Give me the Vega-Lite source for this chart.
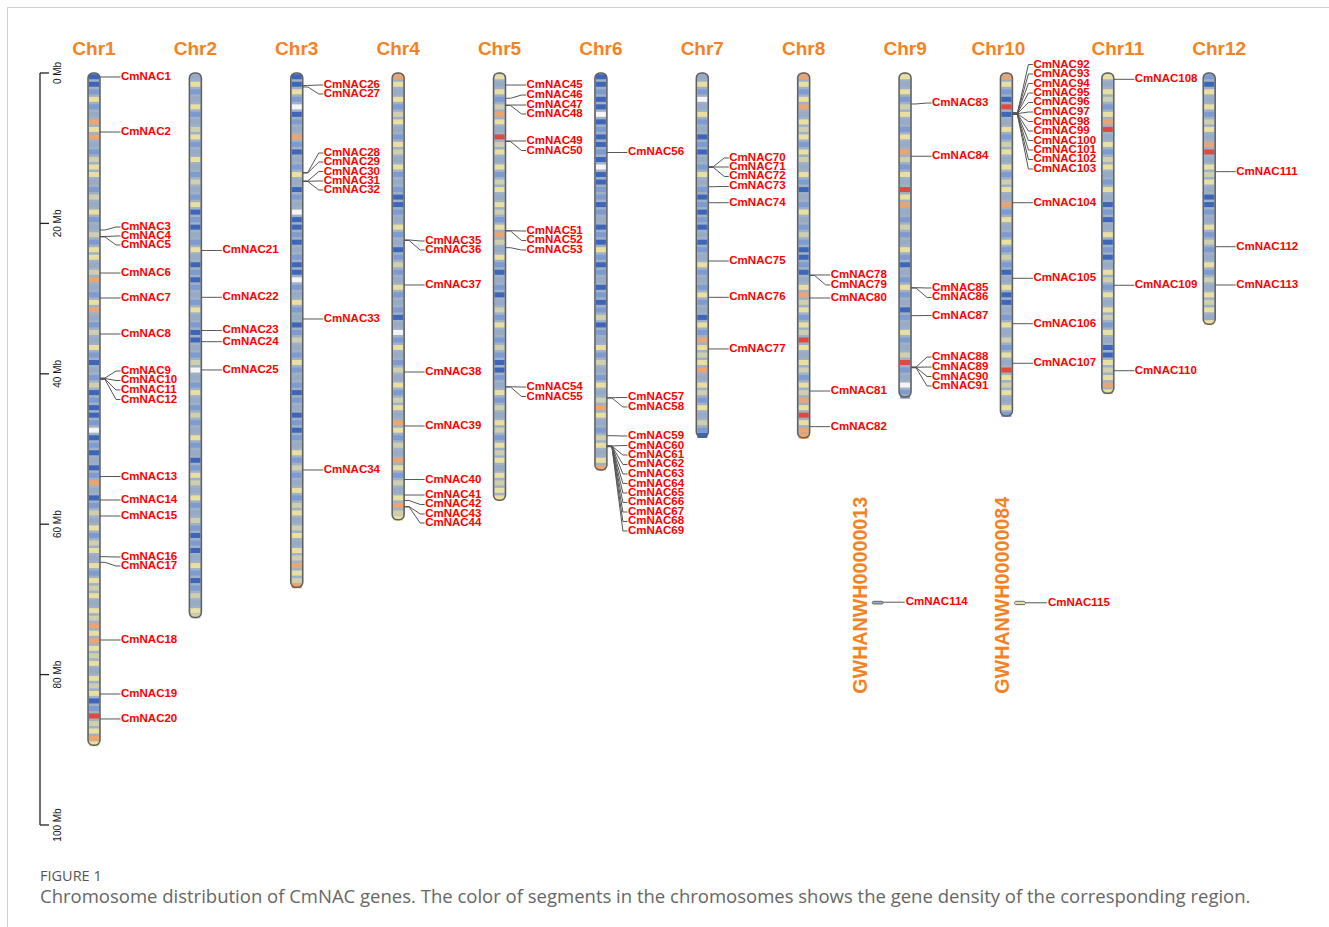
{
  "$schema": "https://vega.github.io/schema/vega-lite/v6.json",
  "width": 1322,
  "height": 920,
  "autosize": "none",
  "padding": {"left": 7, "top": 7, "right": 0, "bottom": 0},
  "background": "white",
  "config": {
    "view": {"stroke": "#cfcfcf", "strokeWidth": 1, "strokeDash": [1322, 2242, 920]}
  },
  "title": {
    "text": "FIGURE 1",
    "subtitle": "Chromosome distribution of CmNAC genes. The color of segments in the chromosomes shows the gene density of the corresponding region.",
    "orient": "bottom",
    "anchor": "start",
    "frame": "group",
    "offset": -57,
    "dx": 33,
    "font": "Open Sans",
    "fontSize": 14.5,
    "fontWeight": "normal",
    "color": "#555555",
    "subtitleFont": "Open Sans",
    "subtitleFontSize": 18.5,
    "subtitleColor": "#666666",
    "subtitlePadding": 3
  },
  "datasets": {
    "axisLine": [{"from": 0, "to": 100}],
    "axisTicks": [
      {"v": 0, "lbl": "0 Mb"}, {"v": 20, "lbl": "20 Mb"}, {"v": 40, "lbl": "40 Mb"},
      {"v": 60, "lbl": "60 Mb"}, {"v": 80, "lbl": "80 Mb"}, {"v": 100, "lbl": "100 Mb"}
    ],
    "chroms": [
      {"chr": "Chr1", "k": 1, "start": 0, "len": 89.4},
      {"chr": "Chr2", "k": 2, "start": 0, "len": 72.4},
      {"chr": "Chr3", "k": 3, "start": 0, "len": 68.4},
      {"chr": "Chr4", "k": 4, "start": 0, "len": 59.4},
      {"chr": "Chr5", "k": 5, "start": 0, "len": 56.8},
      {"chr": "Chr6", "k": 6, "start": 0, "len": 52.8},
      {"chr": "Chr7", "k": 7, "start": 0, "len": 48.4},
      {"chr": "Chr8", "k": 8, "start": 0, "len": 48.5},
      {"chr": "Chr9", "k": 9, "start": 0, "len": 43.1},
      {"chr": "Chr10", "k": 10, "start": 0, "len": 45.6},
      {"chr": "Chr11", "k": 11, "start": 0, "len": 42.6},
      {"chr": "Chr12", "k": 12, "start": 0, "len": 33.4}
    ],
    "scaf": [
      {"s": "GWHANWH00000013", "n": 13, "start": 0, "len": 0.36, "d": 2, "g": "CmNAC114", "gp": 0.12},
      {"s": "GWHANWH00000084", "n": 84, "start": 0, "len": 0.44, "d": 4, "g": "CmNAC115", "gp": 0.2}
    ],
    "genes": [
      {"g": "CmNAC1", "k": 1, "pos": 0.53, "lab": 0.53},
      {"g": "CmNAC2", "k": 1, "pos": 7.85, "lab": 7.85},
      {"g": "CmNAC3", "k": 1, "pos": 20.88, "lab": 20.48},
      {"g": "CmNAC4", "k": 1, "pos": 21.74, "lab": 21.68},
      {"g": "CmNAC5", "k": 1, "pos": 21.8, "lab": 22.87},
      {"g": "CmNAC6", "k": 1, "pos": 26.6, "lab": 26.6},
      {"g": "CmNAC7", "k": 1, "pos": 29.92, "lab": 29.92},
      {"g": "CmNAC8", "k": 1, "pos": 34.71, "lab": 34.71},
      {"g": "CmNAC9", "k": 1, "pos": 40.56, "lab": 39.63},
      {"g": "CmNAC10", "k": 1, "pos": 40.62, "lab": 40.89},
      {"g": "CmNAC11", "k": 1, "pos": 40.69, "lab": 42.15},
      {"g": "CmNAC12", "k": 1, "pos": 40.75, "lab": 43.42},
      {"g": "CmNAC13", "k": 1, "pos": 53.66, "lab": 53.66},
      {"g": "CmNAC14", "k": 1, "pos": 56.78, "lab": 56.78},
      {"g": "CmNAC15", "k": 1, "pos": 58.91, "lab": 58.91},
      {"g": "CmNAC16", "k": 1, "pos": 64.32, "lab": 64.36},
      {"g": "CmNAC17", "k": 1, "pos": 65.07, "lab": 65.56},
      {"g": "CmNAC18", "k": 1, "pos": 75.4, "lab": 75.4},
      {"g": "CmNAC19", "k": 1, "pos": 82.58, "lab": 82.58},
      {"g": "CmNAC20", "k": 1, "pos": 85.9, "lab": 85.9},
      {"g": "CmNAC21", "k": 2, "pos": 23.6, "lab": 23.6},
      {"g": "CmNAC22", "k": 2, "pos": 29.83, "lab": 29.83},
      {"g": "CmNAC23", "k": 2, "pos": 34.24, "lab": 34.24},
      {"g": "CmNAC24", "k": 2, "pos": 35.73, "lab": 35.73},
      {"g": "CmNAC25", "k": 2, "pos": 39.49, "lab": 39.49},
      {"g": "CmNAC26", "k": 3, "pos": 1.66, "lab": 1.6},
      {"g": "CmNAC27", "k": 3, "pos": 1.86, "lab": 2.79},
      {"g": "CmNAC28", "k": 3, "pos": 13.23, "lab": 10.64},
      {"g": "CmNAC29", "k": 3, "pos": 13.3, "lab": 11.84},
      {"g": "CmNAC30", "k": 3, "pos": 14.36, "lab": 13.1},
      {"g": "CmNAC31", "k": 3, "pos": 14.4, "lab": 14.36},
      {"g": "CmNAC32", "k": 3, "pos": 14.43, "lab": 15.56},
      {"g": "CmNAC33", "k": 3, "pos": 32.71, "lab": 32.71},
      {"g": "CmNAC34", "k": 3, "pos": 52.79, "lab": 52.79},
      {"g": "CmNAC35", "k": 4, "pos": 22.2, "lab": 22.34},
      {"g": "CmNAC36", "k": 4, "pos": 22.27, "lab": 23.54},
      {"g": "CmNAC37", "k": 4, "pos": 28.19, "lab": 28.19},
      {"g": "CmNAC38", "k": 4, "pos": 39.76, "lab": 39.76},
      {"g": "CmNAC39", "k": 4, "pos": 46.94, "lab": 46.94},
      {"g": "CmNAC40", "k": 4, "pos": 54.06, "lab": 54.06},
      {"g": "CmNAC41", "k": 4, "pos": 56.12, "lab": 56.12},
      {"g": "CmNAC42", "k": 4, "pos": 56.85, "lab": 57.38},
      {"g": "CmNAC43", "k": 4, "pos": 57.65, "lab": 58.64},
      {"g": "CmNAC44", "k": 4, "pos": 57.71, "lab": 59.84},
      {"g": "CmNAC45", "k": 5, "pos": 1.6, "lab": 1.6},
      {"g": "CmNAC46", "k": 5, "pos": 3.36, "lab": 2.93},
      {"g": "CmNAC47", "k": 5, "pos": 4.26, "lab": 4.26},
      {"g": "CmNAC48", "k": 5, "pos": 4.32, "lab": 5.45},
      {"g": "CmNAC49", "k": 5, "pos": 9.04, "lab": 9.04},
      {"g": "CmNAC50", "k": 5, "pos": 9.11, "lab": 10.31},
      {"g": "CmNAC51", "k": 5, "pos": 20.97, "lab": 21.01},
      {"g": "CmNAC52", "k": 5, "pos": 21.01, "lab": 22.27},
      {"g": "CmNAC53", "k": 5, "pos": 23.23, "lab": 23.54},
      {"g": "CmNAC54", "k": 5, "pos": 41.72, "lab": 41.76},
      {"g": "CmNAC55", "k": 5, "pos": 41.76, "lab": 43.02},
      {"g": "CmNAC56", "k": 6, "pos": 10.57, "lab": 10.57},
      {"g": "CmNAC57", "k": 6, "pos": 43.18, "lab": 43.15},
      {"g": "CmNAC58", "k": 6, "pos": 43.22, "lab": 44.41},
      {"g": "CmNAC59", "k": 6, "pos": 48.23, "lab": 48.27},
      {"g": "CmNAC60", "k": 6, "pos": 49.6, "lab": 49.54},
      {"g": "CmNAC61", "k": 6, "pos": 49.61, "lab": 50.8},
      {"g": "CmNAC62", "k": 6, "pos": 49.62, "lab": 52.06},
      {"g": "CmNAC63", "k": 6, "pos": 49.63, "lab": 53.32},
      {"g": "CmNAC64", "k": 6, "pos": 49.64, "lab": 54.59},
      {"g": "CmNAC65", "k": 6, "pos": 49.65, "lab": 55.85},
      {"g": "CmNAC66", "k": 6, "pos": 49.66, "lab": 57.11},
      {"g": "CmNAC67", "k": 6, "pos": 49.67, "lab": 58.38},
      {"g": "CmNAC68", "k": 6, "pos": 49.68, "lab": 59.64},
      {"g": "CmNAC69", "k": 6, "pos": 49.69, "lab": 60.9},
      {"g": "CmNAC70", "k": 7, "pos": 12.46, "lab": 11.3},
      {"g": "CmNAC71", "k": 7, "pos": 12.5, "lab": 12.5},
      {"g": "CmNAC72", "k": 7, "pos": 12.55, "lab": 13.76},
      {"g": "CmNAC73", "k": 7, "pos": 15.12, "lab": 15.09},
      {"g": "CmNAC74", "k": 7, "pos": 17.25, "lab": 17.25},
      {"g": "CmNAC75", "k": 7, "pos": 25.0, "lab": 25.0},
      {"g": "CmNAC76", "k": 7, "pos": 29.83, "lab": 29.83},
      {"g": "CmNAC77", "k": 7, "pos": 36.7, "lab": 36.7},
      {"g": "CmNAC78", "k": 8, "pos": 26.86, "lab": 26.86},
      {"g": "CmNAC79", "k": 8, "pos": 26.93, "lab": 28.19},
      {"g": "CmNAC80", "k": 8, "pos": 29.92, "lab": 29.92},
      {"g": "CmNAC81", "k": 8, "pos": 42.29, "lab": 42.29},
      {"g": "CmNAC82", "k": 8, "pos": 47.03, "lab": 47.03},
      {"g": "CmNAC83", "k": 9, "pos": 4.12, "lab": 3.99},
      {"g": "CmNAC84", "k": 9, "pos": 11.07, "lab": 11.07},
      {"g": "CmNAC85", "k": 9, "pos": 28.55, "lab": 28.59},
      {"g": "CmNAC86", "k": 9, "pos": 28.6, "lab": 29.85},
      {"g": "CmNAC87", "k": 9, "pos": 32.27, "lab": 32.25},
      {"g": "CmNAC88", "k": 9, "pos": 39.1, "lab": 37.77},
      {"g": "CmNAC89", "k": 9, "pos": 39.13, "lab": 39.1},
      {"g": "CmNAC90", "k": 9, "pos": 39.16, "lab": 40.36},
      {"g": "CmNAC91", "k": 9, "pos": 39.2, "lab": 41.62},
      {"g": "CmNAC92", "k": 10, "pos": 5.3, "lab": -1.13},
      {"g": "CmNAC93", "k": 10, "pos": 5.32, "lab": 0.13},
      {"g": "CmNAC94", "k": 10, "pos": 5.34, "lab": 1.4},
      {"g": "CmNAC95", "k": 10, "pos": 5.36, "lab": 2.66},
      {"g": "CmNAC96", "k": 10, "pos": 5.38, "lab": 3.92},
      {"g": "CmNAC97", "k": 10, "pos": 5.4, "lab": 5.19},
      {"g": "CmNAC98", "k": 10, "pos": 5.42, "lab": 6.45},
      {"g": "CmNAC99", "k": 10, "pos": 5.44, "lab": 7.71},
      {"g": "CmNAC100", "k": 10, "pos": 5.46, "lab": 8.98},
      {"g": "CmNAC101", "k": 10, "pos": 5.48, "lab": 10.24},
      {"g": "CmNAC102", "k": 10, "pos": 5.5, "lab": 11.5},
      {"g": "CmNAC103", "k": 10, "pos": 5.52, "lab": 12.77},
      {"g": "CmNAC104", "k": 10, "pos": 17.25, "lab": 17.25},
      {"g": "CmNAC105", "k": 10, "pos": 27.3, "lab": 27.3},
      {"g": "CmNAC106", "k": 10, "pos": 33.34, "lab": 33.34},
      {"g": "CmNAC107", "k": 10, "pos": 38.6, "lab": 38.6},
      {"g": "CmNAC108", "k": 11, "pos": 0.84, "lab": 0.84},
      {"g": "CmNAC109", "k": 11, "pos": 28.23, "lab": 28.23},
      {"g": "CmNAC110", "k": 11, "pos": 39.59, "lab": 39.59},
      {"g": "CmNAC111", "k": 12, "pos": 13.12, "lab": 13.12},
      {"g": "CmNAC112", "k": 12, "pos": 23.1, "lab": 23.1},
      {"g": "CmNAC113", "k": 12, "pos": 28.19, "lab": 28.19}
    ],
    "bands": [
      {"k":1,"p":0.5,"d":0},{"k":1,"p":1.5,"d":0},{"k":1,"p":2.5,"d":1},{"k":1,"p":3.5,"d":4},{"k":1,"p":4.5,"d":1},{"k":1,"p":5.5,"d":2},{"k":1,"p":6.5,"d":5},{"k":1,"p":7.5,"d":4},{"k":1,"p":8.5,"d":5},{"k":1,"p":9.5,"d":2},
      {"k":1,"p":10.5,"d":1},{"k":1,"p":11.5,"d":3},{"k":1,"p":12.5,"d":4},{"k":1,"p":13.5,"d":4},{"k":1,"p":14.5,"d":2},{"k":1,"p":15.5,"d":1},{"k":1,"p":16.5,"d":3},{"k":1,"p":17.5,"d":2},{"k":1,"p":18.5,"d":4},{"k":1,"p":19.5,"d":1},
      {"k":1,"p":20.5,"d":2},{"k":1,"p":21.5,"d":3},{"k":1,"p":22.5,"d":1},{"k":1,"p":23.5,"d":4},{"k":1,"p":24.5,"d":4},{"k":1,"p":25.5,"d":2},{"k":1,"p":26.5,"d":3},{"k":1,"p":27.5,"d":5},{"k":1,"p":28.5,"d":2},{"k":1,"p":29.5,"d":1},
      {"k":1,"p":30.5,"d":4},{"k":1,"p":31.5,"d":5},{"k":1,"p":32.5,"d":2},{"k":1,"p":33.5,"d":1},{"k":1,"p":34.5,"d":3},{"k":1,"p":35.5,"d":2},{"k":1,"p":36.5,"d":4},{"k":1,"p":37.5,"d":1},{"k":1,"p":38.5,"d":0},{"k":1,"p":39.5,"d":2},
      {"k":1,"p":40.5,"d":1},{"k":1,"p":41.5,"d":3},{"k":1,"p":42.5,"d":0},{"k":1,"p":43.5,"d":1},{"k":1,"p":44.5,"d":0},{"k":1,"p":45.5,"d":0},{"k":1,"p":46.5,"d":1},{"k":1,"p":47.5,"d":7},{"k":1,"p":48.5,"d":0},{"k":1,"p":49.5,"d":1},
      {"k":1,"p":50.5,"d":0},{"k":1,"p":51.5,"d":2},{"k":1,"p":52.5,"d":0},{"k":1,"p":53.5,"d":1},{"k":1,"p":54.5,"d":5},{"k":1,"p":55.5,"d":2},{"k":1,"p":56.5,"d":0},{"k":1,"p":57.5,"d":1},{"k":1,"p":58.5,"d":3},{"k":1,"p":59.5,"d":2},
      {"k":1,"p":60.5,"d":4},{"k":1,"p":61.5,"d":1},{"k":1,"p":62.5,"d":3},{"k":1,"p":63.5,"d":4},{"k":1,"p":64.5,"d":2},{"k":1,"p":65.5,"d":4},{"k":1,"p":66.5,"d":1},{"k":1,"p":67.5,"d":4},{"k":1,"p":68.5,"d":3},{"k":1,"p":69.5,"d":4},
      {"k":1,"p":70.5,"d":2},{"k":1,"p":71.5,"d":4},{"k":1,"p":72.5,"d":3},{"k":1,"p":73.5,"d":5},{"k":1,"p":74.5,"d":4},{"k":1,"p":75.5,"d":5},{"k":1,"p":76.5,"d":4},{"k":1,"p":77.5,"d":3},{"k":1,"p":78.5,"d":4},{"k":1,"p":79.5,"d":2},
      {"k":1,"p":80.5,"d":4},{"k":1,"p":81.5,"d":3},{"k":1,"p":82.5,"d":4},{"k":1,"p":83.5,"d":0},{"k":1,"p":84.5,"d":1},{"k":1,"p":85.5,"d":6},{"k":1,"p":86.5,"d":3},{"k":1,"p":87.5,"d":4},{"k":1,"p":88.5,"d":5},{"k":1,"p":89.2,"d":4},
      {"k":2,"p":0.5,"d":2},{"k":2,"p":1.5,"d":4},{"k":2,"p":2.5,"d":1},{"k":2,"p":3.5,"d":2},{"k":2,"p":4.5,"d":4},{"k":2,"p":5.5,"d":1},{"k":2,"p":6.5,"d":2},{"k":2,"p":7.5,"d":3},{"k":2,"p":8.5,"d":4},{"k":2,"p":9.5,"d":1},
      {"k":2,"p":10.5,"d":2},{"k":2,"p":11.5,"d":4},{"k":2,"p":12.5,"d":2},{"k":2,"p":13.5,"d":1},{"k":2,"p":14.5,"d":3},{"k":2,"p":15.5,"d":2},{"k":2,"p":16.5,"d":1},{"k":2,"p":17.5,"d":4},{"k":2,"p":18.5,"d":0},{"k":2,"p":19.5,"d":1},
      {"k":2,"p":20.5,"d":0},{"k":2,"p":21.5,"d":2},{"k":2,"p":22.5,"d":1},{"k":2,"p":23.5,"d":4},{"k":2,"p":24.5,"d":2},{"k":2,"p":25.5,"d":0},{"k":2,"p":26.5,"d":1},{"k":2,"p":27.5,"d":0},{"k":2,"p":28.5,"d":1},{"k":2,"p":29.5,"d":2},
      {"k":2,"p":30.5,"d":1},{"k":2,"p":31.5,"d":4},{"k":2,"p":32.5,"d":2},{"k":2,"p":33.5,"d":1},{"k":2,"p":34.5,"d":0},{"k":2,"p":35.5,"d":0},{"k":2,"p":36.5,"d":2},{"k":2,"p":37.5,"d":1},{"k":2,"p":38.5,"d":3},{"k":2,"p":39.5,"d":7},
      {"k":2,"p":40.5,"d":2},{"k":2,"p":41.5,"d":1},{"k":2,"p":42.5,"d":4},{"k":2,"p":43.5,"d":2},{"k":2,"p":44.5,"d":1},{"k":2,"p":45.5,"d":3},{"k":2,"p":46.5,"d":1},{"k":2,"p":47.5,"d":2},{"k":2,"p":48.5,"d":4},{"k":2,"p":49.5,"d":1},
      {"k":2,"p":50.5,"d":2},{"k":2,"p":51.5,"d":0},{"k":2,"p":52.5,"d":1},{"k":2,"p":53.5,"d":4},{"k":2,"p":54.5,"d":3},{"k":2,"p":55.5,"d":2},{"k":2,"p":56.5,"d":4},{"k":2,"p":57.5,"d":1},{"k":2,"p":58.5,"d":2},{"k":2,"p":59.5,"d":3},
      {"k":2,"p":60.5,"d":1},{"k":2,"p":61.5,"d":0},{"k":2,"p":62.5,"d":1},{"k":2,"p":63.5,"d":0},{"k":2,"p":64.5,"d":2},{"k":2,"p":65.5,"d":4},{"k":2,"p":66.5,"d":1},{"k":2,"p":67.5,"d":0},{"k":2,"p":68.5,"d":1},{"k":2,"p":69.5,"d":3},
      {"k":2,"p":70.5,"d":2},{"k":2,"p":71.5,"d":4},{"k":2,"p":72.2,"d":3},
      {"k":3,"p":0.5,"d":0},{"k":3,"p":1.5,"d":0},{"k":3,"p":2.5,"d":4},{"k":3,"p":3.5,"d":1},{"k":3,"p":4.5,"d":7},{"k":3,"p":5.5,"d":0},{"k":3,"p":6.5,"d":1},{"k":3,"p":7.5,"d":2},{"k":3,"p":8.5,"d":5},{"k":3,"p":9.5,"d":1},
      {"k":3,"p":10.5,"d":0},{"k":3,"p":11.5,"d":2},{"k":3,"p":12.5,"d":1},{"k":3,"p":13.5,"d":4},{"k":3,"p":14.5,"d":2},{"k":3,"p":15.5,"d":0},{"k":3,"p":16.5,"d":1},{"k":3,"p":17.5,"d":2},{"k":3,"p":18.5,"d":7},{"k":3,"p":19.5,"d":0},
      {"k":3,"p":20.5,"d":0},{"k":3,"p":21.5,"d":1},{"k":3,"p":22.5,"d":0},{"k":3,"p":23.5,"d":2},{"k":3,"p":24.5,"d":1},{"k":3,"p":25.5,"d":0},{"k":3,"p":26.5,"d":0},{"k":3,"p":27.5,"d":7},{"k":3,"p":28.5,"d":1},{"k":3,"p":29.5,"d":2},
      {"k":3,"p":30.5,"d":4},{"k":3,"p":31.5,"d":1},{"k":3,"p":32.5,"d":2},{"k":3,"p":33.5,"d":0},{"k":3,"p":34.5,"d":1},{"k":3,"p":35.5,"d":3},{"k":3,"p":36.5,"d":2},{"k":3,"p":37.5,"d":1},{"k":3,"p":38.5,"d":4},{"k":3,"p":39.5,"d":1},
      {"k":3,"p":40.5,"d":2},{"k":3,"p":41.5,"d":1},{"k":3,"p":42.5,"d":0},{"k":3,"p":43.5,"d":1},{"k":3,"p":44.5,"d":2},{"k":3,"p":45.5,"d":0},{"k":3,"p":46.5,"d":1},{"k":3,"p":47.5,"d":0},{"k":3,"p":48.5,"d":1},{"k":3,"p":49.5,"d":2},
      {"k":3,"p":50.5,"d":4},{"k":3,"p":51.5,"d":1},{"k":3,"p":52.5,"d":3},{"k":3,"p":53.5,"d":1},{"k":3,"p":54.5,"d":2},{"k":3,"p":55.5,"d":4},{"k":3,"p":56.5,"d":1},{"k":3,"p":57.5,"d":3},{"k":3,"p":58.5,"d":4},{"k":3,"p":59.5,"d":2},
      {"k":3,"p":60.5,"d":3},{"k":3,"p":61.5,"d":4},{"k":3,"p":62.5,"d":2},{"k":3,"p":63.5,"d":4},{"k":3,"p":64.5,"d":3},{"k":3,"p":65.5,"d":5},{"k":3,"p":66.5,"d":4},{"k":3,"p":67.5,"d":3},{"k":3,"p":68.2,"d":5},
      {"k":4,"p":0.5,"d":5},{"k":4,"p":1.5,"d":4},{"k":4,"p":2.5,"d":2},{"k":4,"p":3.5,"d":4},{"k":4,"p":4.5,"d":1},{"k":4,"p":5.5,"d":3},{"k":4,"p":6.5,"d":4},{"k":4,"p":7.5,"d":2},{"k":4,"p":8.5,"d":1},{"k":4,"p":9.5,"d":4},
      {"k":4,"p":10.5,"d":3},{"k":4,"p":11.5,"d":2},{"k":4,"p":12.5,"d":4},{"k":4,"p":13.5,"d":1},{"k":4,"p":14.5,"d":2},{"k":4,"p":15.5,"d":1},{"k":4,"p":16.5,"d":0},{"k":4,"p":17.5,"d":0},{"k":4,"p":18.5,"d":1},{"k":4,"p":19.5,"d":2},
      {"k":4,"p":20.5,"d":4},{"k":4,"p":21.5,"d":1},{"k":4,"p":22.5,"d":2},{"k":4,"p":23.5,"d":0},{"k":4,"p":24.5,"d":1},{"k":4,"p":25.5,"d":3},{"k":4,"p":26.5,"d":1},{"k":4,"p":27.5,"d":2},{"k":4,"p":28.5,"d":4},{"k":4,"p":29.5,"d":1},
      {"k":4,"p":30.5,"d":2},{"k":4,"p":31.5,"d":1},{"k":4,"p":32.5,"d":0},{"k":4,"p":33.5,"d":2},{"k":4,"p":34.5,"d":7},{"k":4,"p":35.5,"d":1},{"k":4,"p":36.5,"d":4},{"k":4,"p":37.5,"d":2},{"k":4,"p":38.5,"d":1},{"k":4,"p":39.5,"d":3},
      {"k":4,"p":40.5,"d":2},{"k":4,"p":41.5,"d":4},{"k":4,"p":42.5,"d":1},{"k":4,"p":43.5,"d":3},{"k":4,"p":44.5,"d":4},{"k":4,"p":45.5,"d":2},{"k":4,"p":46.5,"d":5},{"k":4,"p":47.5,"d":4},{"k":4,"p":48.5,"d":1},{"k":4,"p":49.5,"d":3},
      {"k":4,"p":50.5,"d":2},{"k":4,"p":51.5,"d":5},{"k":4,"p":52.5,"d":4},{"k":4,"p":53.5,"d":1},{"k":4,"p":54.5,"d":3},{"k":4,"p":55.5,"d":2},{"k":4,"p":56.5,"d":4},{"k":4,"p":57.5,"d":5},{"k":4,"p":58.5,"d":3},{"k":4,"p":59.2,"d":4},
      {"k":5,"p":0.5,"d":4},{"k":5,"p":1.5,"d":2},{"k":5,"p":2.5,"d":4},{"k":5,"p":3.5,"d":1},{"k":5,"p":4.5,"d":3},{"k":5,"p":5.5,"d":5},{"k":5,"p":6.5,"d":4},{"k":5,"p":7.5,"d":2},{"k":5,"p":8.5,"d":6},{"k":5,"p":9.5,"d":3},
      {"k":5,"p":10.5,"d":4},{"k":5,"p":11.5,"d":2},{"k":5,"p":12.5,"d":4},{"k":5,"p":13.5,"d":1},{"k":5,"p":14.5,"d":3},{"k":5,"p":15.5,"d":4},{"k":5,"p":16.5,"d":2},{"k":5,"p":17.5,"d":4},{"k":5,"p":18.5,"d":3},{"k":5,"p":19.5,"d":1},
      {"k":5,"p":20.5,"d":4},{"k":5,"p":21.5,"d":5},{"k":5,"p":22.5,"d":3},{"k":5,"p":23.5,"d":2},{"k":5,"p":24.5,"d":4},{"k":5,"p":25.5,"d":1},{"k":5,"p":26.5,"d":0},{"k":5,"p":27.5,"d":2},{"k":5,"p":28.5,"d":1},{"k":5,"p":29.5,"d":0},
      {"k":5,"p":30.5,"d":2},{"k":5,"p":31.5,"d":3},{"k":5,"p":32.5,"d":1},{"k":5,"p":33.5,"d":4},{"k":5,"p":34.5,"d":2},{"k":5,"p":35.5,"d":1},{"k":5,"p":36.5,"d":3},{"k":5,"p":37.5,"d":1},{"k":5,"p":38.5,"d":0},{"k":5,"p":39.5,"d":0},
      {"k":5,"p":40.5,"d":1},{"k":5,"p":41.5,"d":2},{"k":5,"p":42.5,"d":4},{"k":5,"p":43.5,"d":1},{"k":5,"p":44.5,"d":3},{"k":5,"p":45.5,"d":2},{"k":5,"p":46.5,"d":4},{"k":5,"p":47.5,"d":3},{"k":5,"p":48.5,"d":1},{"k":5,"p":49.5,"d":4},
      {"k":5,"p":50.5,"d":3},{"k":5,"p":51.5,"d":4},{"k":5,"p":52.5,"d":2},{"k":5,"p":53.5,"d":4},{"k":5,"p":54.5,"d":3},{"k":5,"p":55.5,"d":4},{"k":5,"p":56.5,"d":4},
      {"k":6,"p":0.5,"d":0},{"k":6,"p":1.5,"d":0},{"k":6,"p":2.5,"d":1},{"k":6,"p":3.5,"d":0},{"k":6,"p":4.5,"d":0},{"k":6,"p":5.5,"d":7},{"k":6,"p":6.5,"d":0},{"k":6,"p":7.5,"d":1},{"k":6,"p":8.5,"d":0},{"k":6,"p":9.5,"d":0},
      {"k":6,"p":10.5,"d":1},{"k":6,"p":11.5,"d":0},{"k":6,"p":12.5,"d":7},{"k":6,"p":13.5,"d":0},{"k":6,"p":14.5,"d":0},{"k":6,"p":15.5,"d":1},{"k":6,"p":16.5,"d":1},{"k":6,"p":17.5,"d":0},{"k":6,"p":18.5,"d":1},{"k":6,"p":19.5,"d":2},
      {"k":6,"p":20.5,"d":0},{"k":6,"p":21.5,"d":1},{"k":6,"p":22.5,"d":0},{"k":6,"p":23.5,"d":4},{"k":6,"p":24.5,"d":1},{"k":6,"p":25.5,"d":0},{"k":6,"p":26.5,"d":1},{"k":6,"p":27.5,"d":2},{"k":6,"p":28.5,"d":0},{"k":6,"p":29.5,"d":1},
      {"k":6,"p":30.5,"d":0},{"k":6,"p":31.5,"d":1},{"k":6,"p":32.5,"d":3},{"k":6,"p":33.5,"d":0},{"k":6,"p":34.5,"d":1},{"k":6,"p":35.5,"d":2},{"k":6,"p":36.5,"d":4},{"k":6,"p":37.5,"d":1},{"k":6,"p":38.5,"d":3},{"k":6,"p":39.5,"d":2},
      {"k":6,"p":40.5,"d":1},{"k":6,"p":41.5,"d":4},{"k":6,"p":42.5,"d":2},{"k":6,"p":43.5,"d":3},{"k":6,"p":44.5,"d":5},{"k":6,"p":45.5,"d":4},{"k":6,"p":46.5,"d":2},{"k":6,"p":47.5,"d":1},{"k":6,"p":48.5,"d":3},{"k":6,"p":49.5,"d":4},
      {"k":6,"p":50.5,"d":2},{"k":6,"p":51.5,"d":4},{"k":6,"p":52.5,"d":5},
      {"k":7,"p":0.5,"d":2},{"k":7,"p":1.5,"d":4},{"k":7,"p":2.5,"d":1},{"k":7,"p":3.5,"d":7},{"k":7,"p":4.5,"d":2},{"k":7,"p":5.5,"d":4},{"k":7,"p":6.5,"d":1},{"k":7,"p":7.5,"d":2},{"k":7,"p":8.5,"d":0},{"k":7,"p":9.5,"d":1},
      {"k":7,"p":10.5,"d":0},{"k":7,"p":11.5,"d":2},{"k":7,"p":12.5,"d":1},{"k":7,"p":13.5,"d":4},{"k":7,"p":14.5,"d":2},{"k":7,"p":15.5,"d":1},{"k":7,"p":16.5,"d":0},{"k":7,"p":17.5,"d":1},{"k":7,"p":18.5,"d":0},{"k":7,"p":19.5,"d":1},
      {"k":7,"p":20.5,"d":0},{"k":7,"p":21.5,"d":2},{"k":7,"p":22.5,"d":0},{"k":7,"p":23.5,"d":1},{"k":7,"p":24.5,"d":2},{"k":7,"p":25.5,"d":4},{"k":7,"p":26.5,"d":1},{"k":7,"p":27.5,"d":2},{"k":7,"p":28.5,"d":1},{"k":7,"p":29.5,"d":4},
      {"k":7,"p":30.5,"d":1},{"k":7,"p":31.5,"d":2},{"k":7,"p":32.5,"d":0},{"k":7,"p":33.5,"d":4},{"k":7,"p":34.5,"d":1},{"k":7,"p":35.5,"d":5},{"k":7,"p":36.5,"d":4},{"k":7,"p":37.5,"d":3},{"k":7,"p":38.5,"d":4},{"k":7,"p":39.5,"d":5},
      {"k":7,"p":40.5,"d":2},{"k":7,"p":41.5,"d":4},{"k":7,"p":42.5,"d":3},{"k":7,"p":43.5,"d":1},{"k":7,"p":44.5,"d":4},{"k":7,"p":45.5,"d":2},{"k":7,"p":46.5,"d":3},{"k":7,"p":47.5,"d":1},{"k":7,"p":48.2,"d":0},
      {"k":8,"p":0.5,"d":5},{"k":8,"p":1.5,"d":4},{"k":8,"p":2.5,"d":1},{"k":8,"p":3.5,"d":4},{"k":8,"p":4.5,"d":5},{"k":8,"p":5.5,"d":2},{"k":8,"p":6.5,"d":4},{"k":8,"p":7.5,"d":3},{"k":8,"p":8.5,"d":4},{"k":8,"p":9.5,"d":1},
      {"k":8,"p":10.5,"d":4},{"k":8,"p":11.5,"d":3},{"k":8,"p":12.5,"d":2},{"k":8,"p":13.5,"d":4},{"k":8,"p":14.5,"d":1},{"k":8,"p":15.5,"d":0},{"k":8,"p":16.5,"d":2},{"k":8,"p":17.5,"d":1},{"k":8,"p":18.5,"d":4},{"k":8,"p":19.5,"d":2},
      {"k":8,"p":20.5,"d":1},{"k":8,"p":21.5,"d":3},{"k":8,"p":22.5,"d":1},{"k":8,"p":23.5,"d":0},{"k":8,"p":24.5,"d":0},{"k":8,"p":25.5,"d":1},{"k":8,"p":26.5,"d":0},{"k":8,"p":27.5,"d":2},{"k":8,"p":28.5,"d":4},{"k":8,"p":29.5,"d":5},
      {"k":8,"p":30.5,"d":3},{"k":8,"p":31.5,"d":4},{"k":8,"p":32.5,"d":1},{"k":8,"p":33.5,"d":4},{"k":8,"p":34.5,"d":3},{"k":8,"p":35.5,"d":6},{"k":8,"p":36.5,"d":4},{"k":8,"p":37.5,"d":2},{"k":8,"p":38.5,"d":4},{"k":8,"p":39.5,"d":3},
      {"k":8,"p":40.5,"d":1},{"k":8,"p":41.5,"d":4},{"k":8,"p":42.5,"d":3},{"k":8,"p":43.5,"d":5},{"k":8,"p":44.5,"d":4},{"k":8,"p":45.5,"d":6},{"k":8,"p":46.5,"d":4},{"k":8,"p":47.5,"d":5},{"k":8,"p":48.3,"d":5},
      {"k":9,"p":0.5,"d":4},{"k":9,"p":1.5,"d":2},{"k":9,"p":2.5,"d":4},{"k":9,"p":3.5,"d":1},{"k":9,"p":4.5,"d":3},{"k":9,"p":5.5,"d":4},{"k":9,"p":6.5,"d":2},{"k":9,"p":7.5,"d":1},{"k":9,"p":8.5,"d":4},{"k":9,"p":9.5,"d":2},
      {"k":9,"p":10.5,"d":5},{"k":9,"p":11.5,"d":3},{"k":9,"p":12.5,"d":1},{"k":9,"p":13.5,"d":4},{"k":9,"p":14.5,"d":2},{"k":9,"p":15.5,"d":6},{"k":9,"p":16.5,"d":4},{"k":9,"p":17.5,"d":5},{"k":9,"p":18.5,"d":2},{"k":9,"p":19.5,"d":1},
      {"k":9,"p":20.5,"d":3},{"k":9,"p":21.5,"d":1},{"k":9,"p":22.5,"d":2},{"k":9,"p":23.5,"d":4},{"k":9,"p":24.5,"d":1},{"k":9,"p":25.5,"d":0},{"k":9,"p":26.5,"d":2},{"k":9,"p":27.5,"d":1},{"k":9,"p":28.5,"d":4},{"k":9,"p":29.5,"d":1},
      {"k":9,"p":30.5,"d":2},{"k":9,"p":31.5,"d":0},{"k":9,"p":32.5,"d":1},{"k":9,"p":33.5,"d":2},{"k":9,"p":34.5,"d":4},{"k":9,"p":35.5,"d":1},{"k":9,"p":36.5,"d":2},{"k":9,"p":37.5,"d":3},{"k":9,"p":38.5,"d":6},{"k":9,"p":39.5,"d":1},
      {"k":9,"p":40.5,"d":2},{"k":9,"p":41.5,"d":7},{"k":9,"p":42.5,"d":1},{"k":9,"p":43.0,"d":2},
      {"k":10,"p":0.5,"d":5},{"k":10,"p":1.5,"d":4},{"k":10,"p":2.5,"d":1},{"k":10,"p":3.5,"d":0},{"k":10,"p":4.5,"d":6},{"k":10,"p":5.5,"d":0},{"k":10,"p":6.5,"d":2},{"k":10,"p":7.5,"d":4},{"k":10,"p":8.5,"d":1},{"k":10,"p":9.5,"d":3},
      {"k":10,"p":10.5,"d":4},{"k":10,"p":11.5,"d":2},{"k":10,"p":12.5,"d":4},{"k":10,"p":13.5,"d":1},{"k":10,"p":14.5,"d":3},{"k":10,"p":15.5,"d":4},{"k":10,"p":16.5,"d":2},{"k":10,"p":17.5,"d":5},{"k":10,"p":18.5,"d":1},{"k":10,"p":19.5,"d":4},
      {"k":10,"p":20.5,"d":2},{"k":10,"p":21.5,"d":1},{"k":10,"p":22.5,"d":4},{"k":10,"p":23.5,"d":1},{"k":10,"p":24.5,"d":3},{"k":10,"p":25.5,"d":1},{"k":10,"p":26.5,"d":0},{"k":10,"p":27.5,"d":2},{"k":10,"p":28.5,"d":4},{"k":10,"p":29.5,"d":0},
      {"k":10,"p":30.5,"d":0},{"k":10,"p":31.5,"d":2},{"k":10,"p":32.5,"d":1},{"k":10,"p":33.5,"d":4},{"k":10,"p":34.5,"d":2},{"k":10,"p":35.5,"d":3},{"k":10,"p":36.5,"d":1},{"k":10,"p":37.5,"d":4},{"k":10,"p":38.5,"d":2},{"k":10,"p":39.5,"d":6},
      {"k":10,"p":40.5,"d":4},{"k":10,"p":41.5,"d":3},{"k":10,"p":42.5,"d":4},{"k":10,"p":43.5,"d":2},{"k":10,"p":44.5,"d":4},{"k":10,"p":45.4,"d":1},
      {"k":11,"p":0.5,"d":4},{"k":11,"p":1.5,"d":2},{"k":11,"p":2.5,"d":4},{"k":11,"p":3.5,"d":3},{"k":11,"p":4.5,"d":1},{"k":11,"p":5.5,"d":4},{"k":11,"p":6.5,"d":5},{"k":11,"p":7.5,"d":6},{"k":11,"p":8.5,"d":2},{"k":11,"p":9.5,"d":4},
      {"k":11,"p":10.5,"d":1},{"k":11,"p":11.5,"d":3},{"k":11,"p":12.5,"d":4},{"k":11,"p":13.5,"d":2},{"k":11,"p":14.5,"d":1},{"k":11,"p":15.5,"d":4},{"k":11,"p":16.5,"d":2},{"k":11,"p":17.5,"d":0},{"k":11,"p":18.5,"d":1},{"k":11,"p":19.5,"d":0},
      {"k":11,"p":20.5,"d":2},{"k":11,"p":21.5,"d":4},{"k":11,"p":22.5,"d":0},{"k":11,"p":23.5,"d":1},{"k":11,"p":24.5,"d":0},{"k":11,"p":25.5,"d":2},{"k":11,"p":26.5,"d":4},{"k":11,"p":27.5,"d":3},{"k":11,"p":28.5,"d":1},{"k":11,"p":29.5,"d":4},
      {"k":11,"p":30.5,"d":2},{"k":11,"p":31.5,"d":4},{"k":11,"p":32.5,"d":3},{"k":11,"p":33.5,"d":1},{"k":11,"p":34.5,"d":4},{"k":11,"p":35.5,"d":2},{"k":11,"p":36.5,"d":0},{"k":11,"p":37.5,"d":0},{"k":11,"p":38.5,"d":4},{"k":11,"p":39.5,"d":3},
      {"k":11,"p":40.5,"d":4},{"k":11,"p":41.5,"d":5},{"k":11,"p":42.4,"d":4},
      {"k":12,"p":0.5,"d":1},{"k":12,"p":1.5,"d":0},{"k":12,"p":2.5,"d":4},{"k":12,"p":3.5,"d":2},{"k":12,"p":4.5,"d":4},{"k":12,"p":5.5,"d":1},{"k":12,"p":6.5,"d":3},{"k":12,"p":7.5,"d":4},{"k":12,"p":8.5,"d":2},{"k":12,"p":9.5,"d":5},
      {"k":12,"p":10.5,"d":6},{"k":12,"p":11.5,"d":2},{"k":12,"p":12.5,"d":4},{"k":12,"p":13.5,"d":3},{"k":12,"p":14.5,"d":4},{"k":12,"p":15.5,"d":2},{"k":12,"p":16.5,"d":0},{"k":12,"p":17.5,"d":0},{"k":12,"p":18.5,"d":1},{"k":12,"p":19.5,"d":2},
      {"k":12,"p":20.5,"d":4},{"k":12,"p":21.5,"d":1},{"k":12,"p":22.5,"d":3},{"k":12,"p":23.5,"d":1},{"k":12,"p":24.5,"d":2},{"k":12,"p":25.5,"d":4},{"k":12,"p":26.5,"d":1},{"k":12,"p":27.5,"d":3},{"k":12,"p":28.5,"d":2},{"k":12,"p":29.5,"d":4},
      {"k":12,"p":30.5,"d":3},{"k":12,"p":31.5,"d":4},{"k":12,"p":32.5,"d":2},{"k":12,"p":33.2,"d":4}
    ]
  },
  "resolve": {"scale": {"x": "independent", "y": "independent"}},
  "layer": [
    {
      "layer": [
        {
          "data": {"name": "axisLine"},
          "mark": {"type": "rule", "color": "#222222", "strokeWidth": 1.3, "xOffset": -54},
          "encoding": {
            "x": {"datum": 1, "type": "quantitative", "scale": {"domain": [1, 12], "range": [87, 1202.2]}, "axis": null},
            "y": {"field": "from", "type": "quantitative", "scale": {"domain": [0, 100], "range": [66, 818]}, "axis": null},
            "y2": {"field": "to"}
          }
        },
        {
          "data": {"name": "axisTicks"},
          "mark": {"type": "tick", "orient": "horizontal", "size": 9, "thickness": 1.3, "opacity": 1, "color": "#222222", "xOffset": -49.5},
          "encoding": {
            "x": {"datum": 1, "type": "quantitative", "scale": {"domain": [1, 12], "range": [87, 1202.2]}, "axis": null},
            "y": {"field": "v", "type": "quantitative", "scale": {"domain": [0, 100], "range": [66, 818]}, "axis": null}
          }
        },
        {
          "data": {"name": "axisTicks"},
          "mark": {"type": "text", "xOffset": -41, "angle": 270, "align": "center", "baseline": "top", "font": "Liberation Sans", "fontSize": 10, "color": "#111111"},
          "encoding": {
            "x": {"datum": 1, "type": "quantitative", "scale": {"domain": [1, 12], "range": [87, 1202.2]}, "axis": null},
            "y": {"field": "v", "type": "quantitative", "scale": {"domain": [0, 100], "range": [66, 818]}, "axis": null},
            "text": {"field": "lbl"}
          }
        },
        {
          "data": {"name": "chroms"},
          "mark": {"type": "rect", "fill": "#9fb1c6", "xOffset": -6, "x2Offset": 6, "cornerRadius": 5},
          "encoding": {
            "x": {"field": "k", "type": "quantitative", "scale": {"domain": [1, 12], "range": [87, 1202.2]}, "axis": null},
            "x2": {"field": "k"},
            "y": {"field": "start", "type": "quantitative", "scale": {"domain": [0, 100], "range": [66, 818]}, "axis": null},
            "y2": {"field": "len"}
          }
        },
        {
          "data": {"name": "bands"},
          "mark": {"type": "tick", "orient": "horizontal", "size": 10, "thickness": 5, "opacity": 1},
          "encoding": {
            "x": {"field": "k", "type": "quantitative", "scale": {"domain": [1, 12], "range": [87, 1202.2]}, "axis": null},
            "y": {"field": "p", "type": "quantitative", "scale": {"domain": [0, 100], "range": [66, 818]}, "axis": null},
            "color": {
              "field": "d", "type": "ordinal",
              "scale": {"domain": [0, 1, 2, 3, 4, 5, 6, 7], "range": ["#3d66ba", "#7d9bd0", "#98abc6", "#cfcfae", "#ebdf9f", "#eca56f", "#de4a3e", "#f5f5f5"]},
              "legend": null
            }
          }
        },
        {
          "data": {"name": "chroms"},
          "mark": {"type": "rect", "filled": false, "stroke": "#5f5f5f", "strokeWidth": 1.5, "xOffset": -6, "x2Offset": 6, "cornerRadius": 5},
          "encoding": {
            "x": {"field": "k", "type": "quantitative", "scale": {"domain": [1, 12], "range": [87, 1202.2]}, "axis": null},
            "x2": {"field": "k"},
            "y": {"field": "start", "type": "quantitative", "scale": {"domain": [0, 100], "range": [66, 818]}, "axis": null},
            "y2": {"field": "len"}
          }
        },
        {
          "data": {"name": "genes"},
          "mark": {"type": "rule", "color": "#555555", "strokeWidth": 1, "xOffset": 6, "x2Offset": 11},
          "encoding": {
            "x": {"field": "k", "type": "quantitative", "scale": {"domain": [1, 12], "range": [87, 1202.2]}, "axis": null},
            "x2": {"field": "k"},
            "y": {"field": "pos", "type": "quantitative", "scale": {"domain": [0, 100], "range": [66, 818]}, "axis": null}
          }
        },
        {
          "data": {"name": "genes"},
          "mark": {"type": "rule", "color": "#555555", "strokeWidth": 1, "xOffset": 11, "x2Offset": 22},
          "encoding": {
            "x": {"field": "k", "type": "quantitative", "scale": {"domain": [1, 12], "range": [87, 1202.2]}, "axis": null},
            "x2": {"field": "k"},
            "y": {"field": "pos", "type": "quantitative", "scale": {"domain": [0, 100], "range": [66, 818]}, "axis": null},
            "y2": {"field": "lab"}
          }
        },
        {
          "data": {"name": "genes"},
          "mark": {"type": "rule", "color": "#555555", "strokeWidth": 1, "xOffset": 22, "x2Offset": 26.5},
          "encoding": {
            "x": {"field": "k", "type": "quantitative", "scale": {"domain": [1, 12], "range": [87, 1202.2]}, "axis": null},
            "x2": {"field": "k"},
            "y": {"field": "lab", "type": "quantitative", "scale": {"domain": [0, 100], "range": [66, 818]}, "axis": null}
          }
        },
        {
          "data": {"name": "genes"},
          "mark": {"type": "text", "xOffset": 27, "align": "left", "baseline": "middle", "font": "Liberation Sans", "fontWeight": "bold", "fontSize": 11.5, "color": "#ff0000"},
          "encoding": {
            "x": {"field": "k", "type": "quantitative", "scale": {"domain": [1, 12], "range": [87, 1202.2]}, "axis": null},
            "y": {"field": "lab", "type": "quantitative", "scale": {"domain": [0, 100], "range": [66, 818]}, "axis": null},
            "text": {"field": "g"}
          }
        },
        {
          "data": {"name": "chroms"},
          "transform": [{"filter": "datum.k <= 9"}],
          "mark": {"type": "text", "yOffset": -18, "align": "center", "baseline": "alphabetic", "font": "Liberation Sans", "fontWeight": "bold", "fontSize": 19, "color": "#f5821f"},
          "encoding": {
            "x": {"field": "k", "type": "quantitative", "scale": {"domain": [1, 12], "range": [87, 1202.2]}, "axis": null},
            "y": {"field": "start", "type": "quantitative", "scale": {"domain": [0, 100], "range": [66, 818]}, "axis": null},
            "text": {"field": "chr"}
          }
        },
        {
          "data": {"name": "chroms"},
          "transform": [{"filter": "datum.k == 10"}],
          "mark": {"type": "text", "yOffset": -18, "xOffset": -8, "align": "center", "baseline": "alphabetic", "font": "Liberation Sans", "fontWeight": "bold", "fontSize": 19, "color": "#f5821f"},
          "encoding": {
            "x": {"field": "k", "type": "quantitative", "scale": {"domain": [1, 12], "range": [87, 1202.2]}, "axis": null},
            "y": {"field": "start", "type": "quantitative", "scale": {"domain": [0, 100], "range": [66, 818]}, "axis": null},
            "text": {"field": "chr"}
          }
        },
        {
          "data": {"name": "chroms"},
          "transform": [{"filter": "datum.k >= 11"}],
          "mark": {"type": "text", "yOffset": -18, "xOffset": 10, "align": "center", "baseline": "alphabetic", "font": "Liberation Sans", "fontWeight": "bold", "fontSize": 19, "color": "#f5821f"},
          "encoding": {
            "x": {"field": "k", "type": "quantitative", "scale": {"domain": [1, 12], "range": [87, 1202.2]}, "axis": null},
            "y": {"field": "start", "type": "quantitative", "scale": {"domain": [0, 100], "range": [66, 818]}, "axis": null},
            "text": {"field": "chr"}
          }
        }
      ]
    },
    {
      "layer": [
        {
          "data": {"name": "scaf"},
          "mark": {"type": "rect", "stroke": "#666666", "strokeWidth": 1, "xOffset": -5.5, "x2Offset": 5.5, "cornerRadius": 1.5},
          "encoding": {
            "x": {"field": "n", "type": "quantitative", "scale": {"domain": [13, 84], "range": [870.7, 1012.9]}, "axis": null},
            "x2": {"field": "n"},
            "y": {"field": "start", "type": "quantitative", "scale": {"domain": [0, 1], "range": [594.3, 601.82]}, "axis": null},
            "y2": {"field": "len"},
            "color": {
              "field": "d", "type": "ordinal",
              "scale": {"domain": [0, 1, 2, 3, 4, 5, 6, 7], "range": ["#3d66ba", "#7d9bd0", "#98abc6", "#cfcfae", "#ebdf9f", "#eca56f", "#de4a3e", "#f5f5f5"]},
              "legend": null
            }
          }
        },
        {
          "data": {"name": "scaf"},
          "mark": {"type": "rule", "color": "#555555", "strokeWidth": 1, "xOffset": 5.5, "x2Offset": 27},
          "encoding": {
            "x": {"field": "n", "type": "quantitative", "scale": {"domain": [13, 84], "range": [870.7, 1012.9]}, "axis": null},
            "x2": {"field": "n"},
            "y": {"field": "gp", "type": "quantitative", "scale": {"domain": [0, 1], "range": [594.3, 601.82]}, "axis": null}
          }
        },
        {
          "data": {"name": "scaf"},
          "mark": {"type": "text", "xOffset": 28, "align": "left", "baseline": "middle", "font": "Liberation Sans", "fontWeight": "bold", "fontSize": 11.5, "color": "#ff0000"},
          "encoding": {
            "x": {"field": "n", "type": "quantitative", "scale": {"domain": [13, 84], "range": [870.7, 1012.9]}, "axis": null},
            "y": {"field": "gp", "type": "quantitative", "scale": {"domain": [0, 1], "range": [594.3, 601.82]}, "axis": null},
            "text": {"field": "g"}
          }
        },
        {
          "data": {"name": "scaf"},
          "mark": {"type": "text", "xOffset": -16.5, "yOffset": -6, "angle": 270, "align": "center", "baseline": "middle", "font": "Liberation Sans", "fontWeight": "bold", "fontSize": 19.7, "color": "#f5821f"},
          "encoding": {
            "x": {"field": "n", "type": "quantitative", "scale": {"domain": [13, 84], "range": [870.7, 1012.9]}, "axis": null},
            "y": {"field": "start", "type": "quantitative", "scale": {"domain": [0, 1], "range": [594.3, 601.82]}, "axis": null},
            "text": {"field": "s"}
          }
        }
      ]
    }
  ]
}
